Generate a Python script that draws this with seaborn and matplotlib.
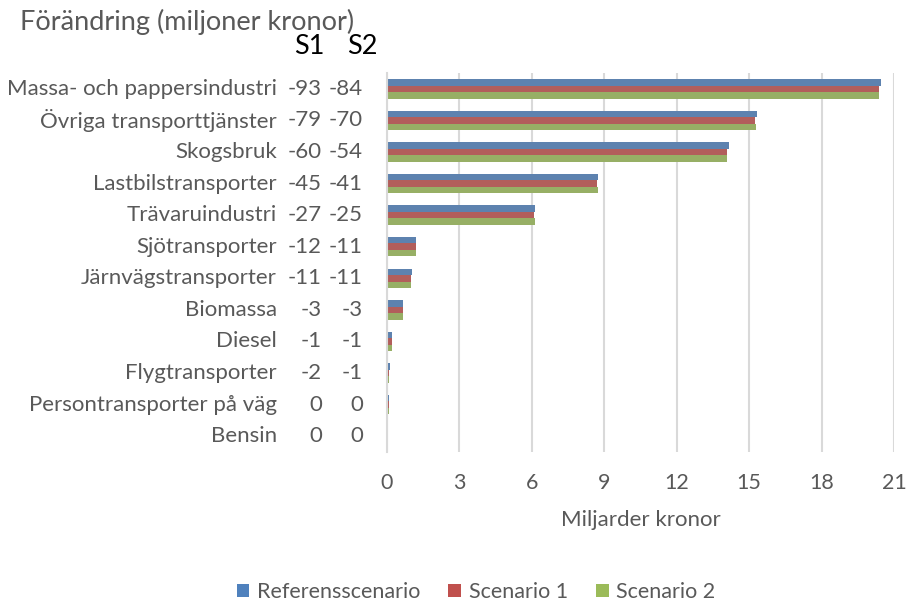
import matplotlib
matplotlib.use("Agg")
import matplotlib.pyplot as plt
import matplotlib.transforms as mtransforms
from matplotlib.patches import Patch
import seaborn as sns
import pandas as pd

categories = ["Massa- och pappersindustri", "Övriga transporttjänster", "Skogsbruk",
              "Lastbilstransporter", "Trävaruindustri", "Sjötransporter",
              "Järnvägstransporter", "Biomassa", "Diesel", "Flygtransporter",
              "Persontransporter på väg", "Bensin"]
referens = [20.45, 15.34, 14.16, 8.76, 6.13, 1.22, 1.03, 0.66, 0.19, 0.11, 0.10, 0.02]
scenario1 = [20.36, 15.26, 14.09, 8.70, 6.10, 1.19, 1.00, 0.65, 0.19, 0.10, 0.10, 0.02]
scenario2 = [20.37, 15.27, 14.10, 8.72, 6.11, 1.19, 1.00, 0.65, 0.19, 0.10, 0.10, 0.02]
diff_s1 = [-93, -79, -60, -45, -27, -12, -11, -3, -1, -2, 0, 0]
diff_s2 = [-84, -70, -54, -41, -25, -11, -11, -3, -1, -1, 0, 0]
series = ["Referensscenario", "Scenario 1", "Scenario 2"]
colors = ["#4F81BD", "#C0504D", "#9BBB59"]
xticks = [0, 3, 6, 9, 12, 15, 18, 21]

df = pd.DataFrame({
    "kategori": categories * 3,
    "scenario": [series[0]] * 12 + [series[1]] * 12 + [series[2]] * 12,
    "varde": referens + scenario1 + scenario2,
})

sns.set_style("white")
plt.rcParams["font.family"] = ["Lato", "DejaVu Sans"]
grey = "#595959"

W, H = 924, 603
fig = plt.figure(figsize=(W / 100, H / 100), dpi=100)
ax = fig.add_axes([387 / W, 1 - 452 / H, (894 - 387) / W, (452 - 73) / H])

sns.barplot(data=df, y="kategori", x="varde", hue="scenario", palette=colors,
            orient="h", width=0.62, linewidth=0, ax=ax, legend=False)

ax.set_xlim(0, 21)
ax.set_xticks(xticks)
ax.set_xticklabels([str(t) for t in xticks])
ax.tick_params(axis="x", length=0, pad=15, labelsize=15.5, labelcolor=grey)
ax.set_yticks([])
ax.set_ylabel("")
ax.set_xlabel("Miljarder kronor", fontsize=16, color=grey, labelpad=12)
ax.grid(axis="x", color="#D9D9D9", linewidth=1.5)
ax.set_axisbelow(True)
for side in ["top", "right", "bottom"]:
    ax.spines[side].set_visible(False)
ax.spines["left"].set_color("#D9D9D9")
ax.spines["left"].set_linewidth(1.5)

# labels and difference columns to the left of the bars
trans = mtransforms.blended_transform_factory(fig.transFigure, ax.transData)
for i, name in enumerate(categories):
    ax.text(277 / W, i, name, transform=trans, ha="right", va="center",
            fontsize=16, color=grey)
    ax.text(322 / W, i, str(diff_s1[i]), transform=trans, ha="right", va="center",
            fontsize=16, color=grey)
    ax.text(363 / W, i, str(diff_s2[i]), transform=trans, ha="right", va="center",
            fontsize=16, color=grey)

fig.text(309 / W, 1 - 46 / H, "S1", ha="center", va="center", fontsize=19.5, color="black")
fig.text(362 / W, 1 - 46 / H, "S2", ha="center", va="center", fontsize=19.5, color="black")
fig.text(20 / W, 1 - 22 / H, "Förändring (miljoner kronor)", ha="left", va="center",
         fontsize=19.5, color=grey)

handles = [Patch(facecolor=c, edgecolor="none", label=s) for c, s in zip(colors, series)]
fig.legend(handles=handles, loc="center", bbox_to_anchor=(476 / W, 1 - 592 / H), ncol=3,
           frameon=False, fontsize=15.5, handlelength=0.6, handleheight=0.6,
           handletextpad=0.35, columnspacing=1.3, labelcolor=grey)

fig.savefig("out.png", dpi=100)
